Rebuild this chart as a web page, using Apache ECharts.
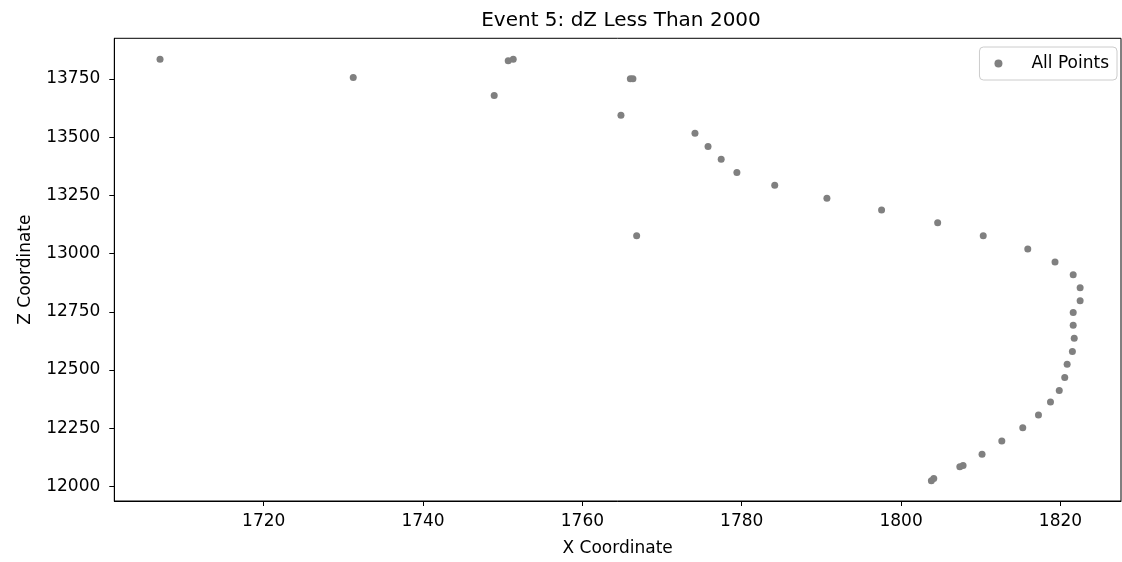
<!DOCTYPE html>
<html>
<head>
<meta charset="utf-8">
<script src="https://cdn.jsdelivr.net/npm/echarts@6/dist/echarts.min.js"></script>
<style>
html,body{margin:0;padding:0;background:#fff;}
#chart{width:1122px;height:562px;}
</style>
</head>
<body>
<div id="chart"></div>
<script>
const chartTitle = 'Event 5: dZ Less Than 2000';
const seriesName = 'All Points';
const xValues = [1706.99, 1731.24, 1748.93, 1750.69, 1751.32, 1766.02, 1766.34, 1764.84, 1774.13, 1775.77,
  1777.42, 1779.39, 1784.14, 1790.69, 1797.55, 1804.59, 1810.31, 1815.9, 1819.32, 1821.6,
  1822.47, 1822.47, 1821.6, 1821.6, 1821.73, 1821.5, 1820.84, 1820.54, 1819.85, 1818.75,
  1817.24, 1815.27, 1812.64, 1810.16, 1807.78, 1807.37, 1804.1, 1803.8, 1766.81];
const zValues = [13834, 13756, 13679, 13828, 13834, 13750, 13750, 13594, 13516, 13460,
  13405, 13348, 13293, 13237, 13187, 13132, 13076, 13020, 12964, 12909,
  12853, 12798, 12747, 12692, 12637, 12580, 12525, 12468, 12412, 12363,
  12307, 12252, 12196, 12139, 12090, 12085, 12035, 12025, 13076];
const xTicks = [1720, 1740, 1760, 1780, 1800, 1820];
const zTicks = [12000, 12250, 12500, 12750, 13000, 13250, 13500, 13750];
const xRange = [1701.25, 1827.6];
const zRange = [11938, 13924];

const points = xValues.map((x, i) => [x, zValues[i]]);
const font = 'DejaVu Sans';
const chart = echarts.init(document.getElementById('chart'), null, {renderer: 'canvas'});
chart.setOption({
  animation: false,
  backgroundColor: '#ffffff',
  title: {
    text: chartTitle,
    left: 616,
    textAlign: 'center',
    top: 6,
    textStyle: {fontFamily: font, fontSize: 20, fontWeight: 'normal', color: '#000'}
  },
  legend: {
    data: [seriesName],
    right: 5,
    top: 47,
    orient: 'vertical',
    padding: [8, 8, 8, 15],
    itemWidth: 20,
    itemHeight: 8,
    backgroundColor: 'rgba(255,255,255,0.8)',
    borderColor: '#cccccc',
    borderWidth: 1,
    borderRadius: 4,
    textStyle: {fontFamily: font, fontSize: 17, color: '#000', padding: [0, 0, 0, 18]}
  },
  grid: {
    left: 114.3, right: 1, top: 38.3, bottom: 58.5,
    show: true, borderColor: '#000', borderWidth: 1, backgroundColor: 'transparent'
  },
  xAxis: {
    type: 'value',
    min: xRange[0], max: xRange[1],
    name: 'X Coordinate',
    nameLocation: 'middle',
    nameGap: 39,
    nameTextStyle: {fontFamily: font, fontSize: 17, color: '#000'},
    splitLine: {show: false},
    axisLine: {show: true, onZero: false, lineStyle: {color: '#000', width: 1}},
    axisTick: {show: true, inside: false, length: 5, lineStyle: {color: '#000'}, customValues: xTicks},
    axisLabel: {fontFamily: font, fontSize: 17, color: '#000', margin: 12, customValues: xTicks,
      formatter: v => String(v)}
  },
  yAxis: {
    type: 'value',
    min: zRange[0], max: zRange[1],
    name: 'Z Coordinate',
    nameLocation: 'middle',
    nameGap: 80,
    nameRotate: 90,
    nameTextStyle: {fontFamily: font, fontSize: 17, color: '#000'},
    splitLine: {show: false},
    axisLine: {show: true, onZero: false, lineStyle: {color: '#000', width: 1}},
    axisTick: {show: true, inside: false, length: 5, lineStyle: {color: '#000'}, customValues: zTicks},
    axisLabel: {fontFamily: font, fontSize: 17, color: '#000', margin: 14, customValues: zTicks,
      formatter: v => String(v)}
  },
  series: [{
    name: seriesName,
    type: 'scatter',
    data: points,
    symbol: 'circle',
    symbolSize: 7,
    itemStyle: {color: '#808080', opacity: 1}
  }]
});
</script>
</body>
</html>
